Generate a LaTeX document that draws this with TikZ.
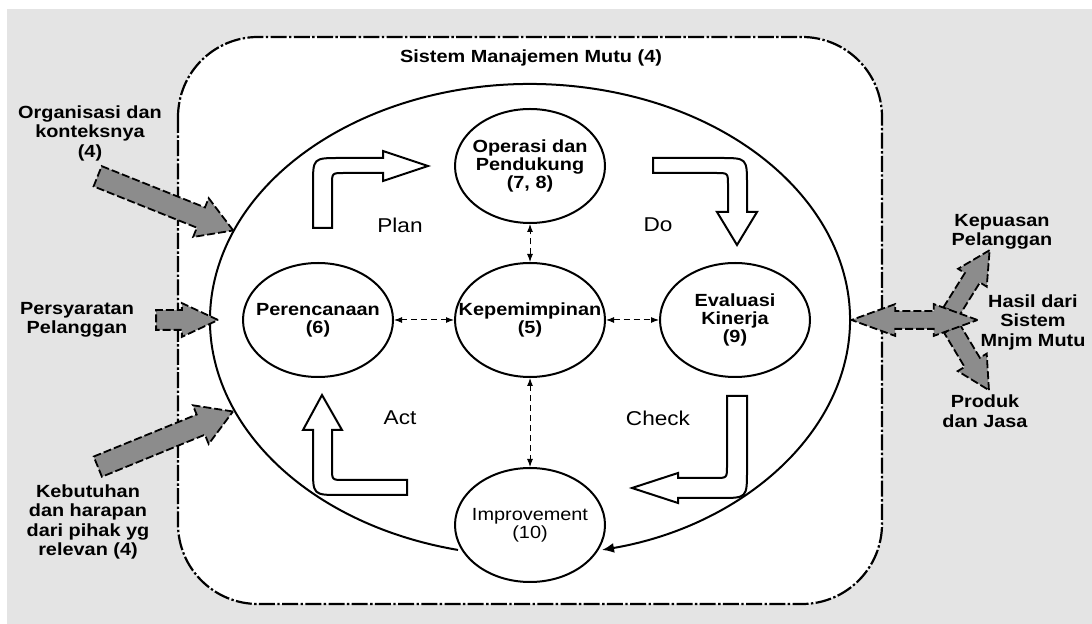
\documentclass[tikz,border=0pt]{standalone}
\usepackage{fontspec}
\setmainfont[FakeStretch=1.13]{Liberation Sans}
\usetikzlibrary{shapes.geometric, shapes.arrows, arrows.meta}
\definecolor{bggray}{RGB}{228,228,228}
\definecolor{argray}{RGB}{140,140,140}

\begin{document}
\begin{tikzpicture}[x=0.5pt, y=-0.5pt]
\tikzstyle{proc}=[ellipse, draw, line width=1pt, fill=white, minimum width=75pt, minimum height=57pt, inner sep=0pt]
\tikzstyle{intext}=[font=\fontsize{8.8}{9}\selectfont\bfseries, align=center]
\tikzstyle{outtext}=[font=\fontsize{8.8}{9.75}\selectfont\bfseries, align=center]
\tikzstyle{cyc}=[font=\fontsize{10}{12}\selectfont]
\tikzstyle{linkarr}=[densely dashed, line width=0.5pt, {Latex[length=4pt,width=3pt]}-{Latex[length=4pt,width=3pt]}]
\tikzstyle{bent}=[draw, line width=1pt, fill=white]
\tikzstyle{inarr}=[single arrow, draw, fill=argray, line width=0.9pt, dash pattern=on 4pt off 1.5pt, inner sep=5pt, single arrow head extend=5pt, single arrow tip angle=62]

\fill[white] (0,0) rectangle (1092,624);
\fill[bggray] (7,9) rectangle (1092,624);
\useasboundingbox (0,0) rectangle (1092,624);

% frame of the system
\draw[line width=1.1pt, fill=white, rounded corners=40pt, dash pattern=on 8pt off 1.2pt on 1.2pt off 1.2pt] (178,37) rectangle (882,604);
\node[outtext] (title) at (531,58) {Sistem Manajemen Mutu (4)};

% big loop
\draw[line width=1pt, -{Latex[length=6pt,width=5pt]}] (530,320) ++(257:160pt and 118pt) arc[start angle=257, end angle=-77, x radius=160pt, y radius=118pt];

% clauses
\node[proc, label={[intext]center:{Operasi dan\\Pendukung\\(7, 8)}}] (oper) at (530,166) {};
\node[proc, label={[intext]center:{Kepemimpinan\\(5)}}] (lead) at (530,320) {};
\node[proc, label={[intext]center:{Perencanaan\\(6)}}] (plan) at (318,320) {};
\node[proc, label={[intext]center:{Evaluasi\\Kinerja\\(9)}}] (eval) at (735,320) {};
\node[proc, label={[intext, font=\fontsize{8.8}{9}\selectfont]center:{Improvement\\(10)}}] (impr) at (530,525) {};

\foreach \n in {oper, plan, eval, impr} {
\draw[linkarr] (lead) -- (\n);
}

\foreach \t/\x/\y in {Plan/400/225, Do/658/225, Act/400/418, Check/658/418} {
\node[cyc] (\t) at (\x,\y) {\t};
}

% PDCA arrows
\draw[bent] (313,228) -- (313,185) .. controls (313,158) .. (340,158) -- (383,158) -- (383,151) -- (428,166) -- (383,181) -- (383,173) -- (344,173) .. controls (332,173) .. (332,185) -- (332,228) -- cycle;
\draw[bent] (653,158) -- (720,158) .. controls (747,158) .. (747,185) -- (747,212) -- (757,212) -- (737,245) -- (717,212) -- (728,212) -- (728,185) .. controls (728,173) .. (716,173) -- (653,173) -- cycle;
\draw[bent] (322,395) -- (342,430) -- (332,430) -- (332,468) .. controls (332,480) .. (344,480) -- (407,480) -- (407,495) -- (340,495) .. controls (313,495) .. (313,468) -- (313,430) -- (303,430) -- cycle;
\draw[bent] (727,396) -- (747,396) -- (747,470) .. controls (747,498) .. (720,498) -- (678,498) -- (678,503) -- (632,488) -- (678,473) -- (678,478) -- (715,478) .. controls (727,478) .. (727,466) -- cycle;

% inputs
\node[outtext] (org) at (90,133) {Organisasi dan\\konteksnya\\(4)};
\node[outtext] (req) at (77,320) {Persyaratan\\Pelanggan};
\node[outtext] (need) at (88,522) {Kebutuhan\\dan harapan\\dari pihak yg\\relevan (4)};
\node[inarr, minimum height=73pt, rotate=-21.8] (orgarr) at (157,200) {};
\node[inarr, minimum height=73pt, rotate=22.2] (needarr) at (157,442.5) {};
\node[inarr, inner sep=4.5pt, single arrow head extend=3.5pt, single arrow tip angle=50, minimum height=31pt] (reqarr) at (176.5,320) {};

% outputs
\node[inarr, inner sep=4pt, single arrow head extend=4pt, single arrow tip angle=55, minimum height=36pt, rotate=58] (satarr) at (966,288) {};
\node[inarr, inner sep=4pt, single arrow head extend=4pt, single arrow tip angle=55, minimum height=36pt, rotate=-59] (prodarr) at (966,352) {};
\node[double arrow, draw, fill=argray, line width=0.9pt, dash pattern=on 4pt off 1.5pt, inner sep=4pt, double arrow head extend=3.5pt, double arrow tip angle=40, minimum height=63pt] (resarr) at (914.5,320) {};
\node[outtext] (sat) at (1002,232) {Kepuasan\\Pelanggan};
\node[outtext] (res) at (1033,322) {Hasil dari\\Sistem\\Mnjm Mutu};
\node[outtext] (prod) at (985,411) {Produk\\dan Jasa};

\end{tikzpicture}
\end{document}
